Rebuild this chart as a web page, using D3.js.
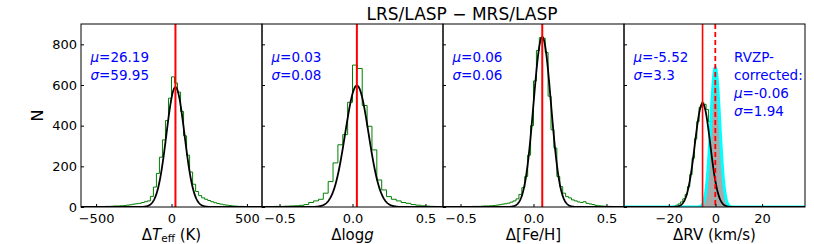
<!DOCTYPE html>
<html><head><meta charset="utf-8">
<script src="https://cdn.jsdelivr.net/npm/d3@7"></script>
<style>body{margin:0;background:#fff}svg{display:block}text{font-family:"DejaVu Sans",sans-serif}</style>
</head><body><svg id="c" width="814" height="244"></svg>
<script>
// ---------------- data ----------------
const title = "LRS/LASP \u2212 MRS/LASP";
const yTicks = [0, 200, 400, 600, 800];
const yMax = 900;

// Teff panel
const teffTicks = [-500, 0, 500];
const teffTickLabels = ["\u2212500", "0", "500"];
const teffDomain = [-600, 600];
const teffBinStart = -600, teffBinWidth = 20;
const teffCounts = [0,1,1,1,1,2,2,2,3,3,4,5,
  5,6,7,9,11,14,16,18,22,26,30,
  52,98,165,245,330,425,535,640,
  610,565,470,350,255,172,112,76,56,45,38,32,26,21,17,14,11,9,7,5,4,3,3,2,2,1,1,1,0];
const teffFit = {mu: 26.19, sigma: 59.95, amp: 589};

// logg panel
const loggTicks = [-0.5, 0, 0.5];
const loggTickLabels = ["\u22120.5", "0.0", "0.5"];
const loggDomain = [-0.62, 0.62];
const loggBinStart = -0.6, loggBinWidth = 1.2 / 36;
const loggCounts = [2,2,3,3,4,5,6,8,12,22,30,38,68,125,217,306,356,515,
  698,681,499,397,281,133,84,51,38,30,22,18,12,9,6,4,3,2];
const loggFit = {mu: 0.03, sigma: 0.08, amp: 597};

// [Fe/H] panel
const fehTicks = [-0.5, 0, 0.5];
const fehTickLabels = ["\u22120.5", "0.0", "0.5"];
const fehDomain = [-0.62, 0.62];
const fehBinStart = -0.6, fehBinWidth = 0.02;
const fehCounts = [0,1,1,1,1,2,2,2,2,3,3,3,4,5,5,6,7,9,11,14,16,19,24,30,40,62,95,150,255,400,
  620,770,833,830,760,545,380,290,150,100,68,51,45,35,30,25,22,26,18,15,12,8,6,5,4,3,3,2,1,1];
const fehFit = {mu: 0.06, sigma: 0.06, amp: 836};

// RV panel
const rvTicks = [-20, 0, 20];
const rvTickLabels = ["\u221220", "0", "20"];
const rvDomain = [-39.2, 38.4];
const rvBinStart = -21, rvBinWidth = 1;
const rvCounts = [1,2,3,5,9,15,25,40,62,100,160,240,335,420,490,515,505,480,420,330,240,160,95,52,26,12,6,3,1];
const rvFit = {mu: -5.52, sigma: 3.3, amp: 509};
const rvCorrBinStart = -8, rvCorrBinWidth = 1;
const rvCorrCounts = [1,4,14,50,143,310,518,662,652,500,286,128,43,11,3,1];
const rvCorrFit = {mu: -0.06, sigma: 1.94, amp: 685};

const statsTeff = ["\u03bc=26.19", "\u03c3=59.95"];
const statsLogg = ["\u03bc=0.03", "\u03c3=0.08"];
const statsFeh = ["\u03bc=0.06", "\u03c3=0.06"];
const statsRv = ["\u03bc=-5.52", "\u03c3=3.3"];
const statsRvCorr = ["RVZP-", "corrected:", "\u03bc=-0.06", "\u03c3=1.94"];

// ---------------- layout ----------------
const svg = d3.select("#c");
const yTop = 24, yBot = 207, pw = 181;
const lefts = [81, 262, 443, 624];
const y = d3.scaleLinear().domain([0, yMax]).range([yBot, yTop]);

const panels = [
  {domain: teffDomain, ticks: teffTicks, labels: teffTickLabels, start: teffBinStart, w: teffBinWidth, counts: teffCounts, fit: teffFit, stats: statsTeff, xlabel: "teff"},
  {domain: loggDomain, ticks: loggTicks, labels: loggTickLabels, start: loggBinStart, w: loggBinWidth, counts: loggCounts, fit: loggFit, stats: statsLogg, xlabel: "logg"},
  {domain: fehDomain, ticks: fehTicks, labels: fehTickLabels, start: fehBinStart, w: fehBinWidth, counts: fehCounts, fit: fehFit, stats: statsFeh, xlabel: "feh"},
  {domain: rvDomain, ticks: rvTicks, labels: rvTickLabels, start: rvBinStart, w: rvBinWidth, counts: rvCounts, fit: rvFit, stats: statsRv, xlabel: "rv"}
];

function stepPath(x, start, w, counts, closed) {
  let d = `M${x(start)},${y(0)}`;
  counts.forEach((c, i) => {
    d += `L${x(start + i * w)},${y(c)}L${x(start + (i + 1) * w)},${y(c)}`;
  });
  d += `L${x(start + counts.length * w)},${y(0)}`;
  if (closed) d += "Z";
  return d;
}
function gaussLine(x, fit, dom) {
  const pts = d3.range(0, 601).map(i => {
    const v = dom[0] + (dom[1] - dom[0]) * i / 600;
    return [v, fit.amp * Math.exp(-0.5 * ((v - fit.mu) / fit.sigma) ** 2)];
  });
  return d3.line().x(p => x(p[0])).y(p => y(p[1]))(pts);
}

const defs = svg.append("defs");
panels.forEach((p, k) => {
  const L = lefts[k];
  const x = d3.scaleLinear().domain(p.domain).range([L, L + pw]);
  defs.append("clipPath").attr("id", "clip" + k).append("rect")
    .attr("x", L).attr("y", yTop).attr("width", pw).attr("height", yBot - yTop);
  const g = svg.append("g").attr("clip-path", `url(#clip${k})`);

  g.append("path").attr("d", stepPath(x, p.start, p.w, p.counts, false))
    .attr("fill", "none").attr("stroke", "#008000").attr("stroke-width", 1);

  if (k === 3) {
    g.append("path").attr("d", stepPath(x, rvCorrBinStart, rvCorrBinWidth, rvCorrCounts, true))
      .attr("fill", "#a9a9a9").attr("stroke", "none");
    g.append("path").attr("d", gaussLine(x, rvCorrFit, p.domain))
      .attr("fill", "none").attr("stroke", "#00ffff").attr("stroke-width", 3);
  }
  g.append("path").attr("d", gaussLine(x, p.fit, p.domain))
    .attr("fill", "none").attr("stroke", "#000").attr("stroke-width", 1.8);

  g.append("line").attr("x1", x(p.fit.mu)).attr("x2", x(p.fit.mu))
    .attr("y1", yTop).attr("y2", yBot).attr("stroke", "#ff0000").attr("stroke-width", k === 3 ? 1.6 : 2);
  if (k === 3) {
    g.append("line").attr("x1", x(rvCorrFit.mu)).attr("x2", x(rvCorrFit.mu))
      .attr("y1", yTop).attr("y2", yBot).attr("stroke", "#ff0000").attr("stroke-width", 1.8)
      .attr("stroke-dasharray", "5,3");
  }

  // axes
  const ax = svg.append("g").attr("transform", `translate(0,${yBot})`)
    .call(d3.axisBottom(x).tickValues(p.ticks).tickFormat((d, i) => p.labels[i])
      .tickSizeInner(-3).tickSizeOuter(0).tickPadding(6.4));
  ax.select(".domain").remove();
  ax.selectAll("text").attr("font-size", 13).attr("font-family", "DejaVu Sans").attr("fill", "#000");
  ax.selectAll("line").attr("stroke", "#000");

  const ay = svg.append("g").attr("transform", `translate(${L},0)`)
    .call(d3.axisLeft(y).tickValues(yTicks).tickSizeInner(-3).tickSizeOuter(0).tickPadding(4)
      .tickFormat(k === 0 ? d3.format("d") : () => ""));
  ay.select(".domain").remove();
  ay.selectAll("text").attr("font-size", 13).attr("font-family", "DejaVu Sans").attr("fill", "#000");
  ay.selectAll("line").attr("stroke", "#000");

  svg.append("rect").attr("x", L).attr("y", yTop).attr("width", pw).attr("height", yBot - yTop)
    .attr("fill", "none").attr("stroke", "#000").attr("stroke-width", 1);

  // stats text
  function statText(lines, tx, ty0) {
    lines.forEach((s, i) => {
      const t = svg.append("text").attr("x", tx).attr("y", ty0 + i * 18)
        .attr("font-size", 13.5).attr("fill", "#0000ff");
      if (s[0] === "\u03bc" || s[0] === "\u03c3") {
        t.append("tspan").attr("font-style", "italic").text(s[0]);
        t.append("tspan").text(s.slice(1));
      } else t.text(s);
    });
  }
  statText(p.stats, L + 9.5, 61.6);
  if (k === 3) statText(statsRvCorr, L + 110, 61.6);

  // x label
  const cx = L + pw / 2;
  const lab = svg.append("text").attr("x", cx).attr("y", 240).attr("text-anchor", "middle")
    .attr("font-size", 15).attr("fill", "#000");
  if (p.xlabel === "teff") {
    lab.append("tspan").text("\u0394");
    lab.append("tspan").attr("font-style", "italic").text("T");
    lab.append("tspan").attr("font-size", 10.5).attr("dy", 2).text("eff");
    lab.append("tspan").attr("dy", -2).text(" (K)");
  } else if (p.xlabel === "logg") {
    lab.append("tspan").text("\u0394log");
    lab.append("tspan").attr("font-style", "italic").text("g");
  } else if (p.xlabel === "feh") {
    lab.text("\u0394[Fe/H]");
  } else {
    lab.text("\u0394RV (km/s)");
  }
});

svg.append("text").attr("transform", `translate(43,${(yTop + yBot) / 2}) rotate(-90)`)
  .attr("text-anchor", "middle").attr("font-size", 16).attr("fill", "#000").text("N");

svg.append("text").attr("x", 462).attr("y", 19.5).attr("text-anchor", "middle")
  .attr("font-size", 17).attr("fill", "#000").text(title);
</script></body></html>
